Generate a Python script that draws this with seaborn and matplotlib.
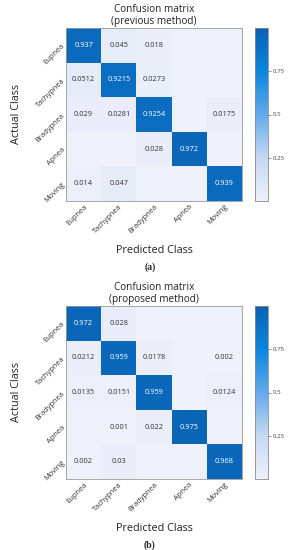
import numpy as np
import matplotlib
matplotlib.use("Agg")
import matplotlib.pyplot as plt
import seaborn as sns
from matplotlib.colors import LinearSegmentedColormap

# class names
classes = ["Eupnea", "Tachypnea", "Bradypnea", "Apnea", "Moving"]

# confusion matrix values (rows = actual, cols = predicted), 0 = empty cell
cm_previous = [
    [0.937, 0.045, 0.018, 0, 0],
    [0.0512, 0.9215, 0.0273, 0, 0],
    [0.029, 0.0281, 0.9254, 0, 0.0175],
    [0, 0, 0.028, 0.972, 0],
    [0.014, 0.047, 0, 0, 0.939],
]
cm_proposed = [
    [0.972, 0.028, 0, 0, 0],
    [0.0212, 0.959, 0.0178, 0, 0.002],
    [0.0135, 0.0151, 0.959, 0, 0.0124],
    [0, 0.001, 0.022, 0.975, 0],
    [0.002, 0.03, 0, 0, 0.968],
]
titles = ["Confusion matrix\n(previous method)", "Confusion matrix\n(proposed method)"]
panel_tags = ["(a)", "(b)"]
cbar_ticks = [0.25, 0.5, 0.75]

sns.set_style("white")
plt.rcParams["font.family"] = ["Open Sans", "DejaVu Sans"]

cmap = LinearSegmentedColormap.from_list(
    "cm_blue",
    [(0.0, "#eef0fa"), (0.25, "#c6d8f2"), (0.5, "#62aaea"),
     (0.75, "#0b86e0"), (1.0, "#0a62b3")],
)

W, H = 289, 550
fig = plt.figure(figsize=(W / 100, H / 100), dpi=100)

# pixel boxes of each panel: heatmap top/bottom
panels = [(28, 201), (306, 479)]


def px_box(x0, x1, y0, y1):
    return [x0 / W, 1 - y1 / H, (x1 - x0) / W, (y1 - y0) / H]


for cm, title, tag, (top, bot) in zip([cm_previous, cm_proposed], titles, panel_tags, panels):
    data = np.array(cm, dtype=float)
    labels = np.array([[f"{v:g}" if v > 0 else "" for v in row] for row in cm])

    ax = fig.add_axes(px_box(66, 242, top, bot))
    cax = fig.add_axes(px_box(255, 268, top, bot))

    sns.heatmap(
        data, ax=ax, cbar_ax=cax, cmap=cmap, vmin=0, vmax=1,
        annot=labels, fmt="", annot_kws={"fontsize": 5.3},
        xticklabels=classes, yticklabels=classes, square=False,
        cbar_kws={"ticks": cbar_ticks},
    )
    for t in ax.texts:
        txt = t.get_text()
        if txt:
            t.set_color("white" if float(txt) > 0.5 else "#333333")

    for s in ax.spines.values():
        s.set_visible(True)
        s.set_color("#9a9a9a")
        s.set_linewidth(0.6)
    ax.tick_params(length=0, labelsize=5.4, pad=1.5, colors="#333333")
    plt.setp(ax.get_xticklabels(), rotation=45, ha="right", rotation_mode="anchor")
    plt.setp(ax.get_yticklabels(), rotation=45, ha="right", rotation_mode="anchor")
    ax.set_title(title, fontsize=7.2, pad=3, linespacing=1.15, color="#222222")
    ax.set_xlabel("Predicted Class", fontsize=7.8, labelpad=7, color="#222222")
    ax.set_ylabel("Actual Class", fontsize=7.8, labelpad=9, color="#222222")

    cbar = ax.collections[0].colorbar
    cbar.ax.tick_params(labelsize=4.4, length=2, width=0.4, pad=1.5, colors="#444444")
    cbar.set_ticklabels([f"{t:g}" for t in cbar_ticks])
    cbar.outline.set_visible(True)
    cbar.outline.set_edgecolor("#8a8a8a")
    cbar.outline.set_linewidth(0.6)

    fig.text(150 / W, 1 - (bot + 66) / H, tag, ha="center", va="center",
             fontsize=7, fontweight="bold", family="Liberation Serif")

fig.savefig("out.png", dpi=100)
